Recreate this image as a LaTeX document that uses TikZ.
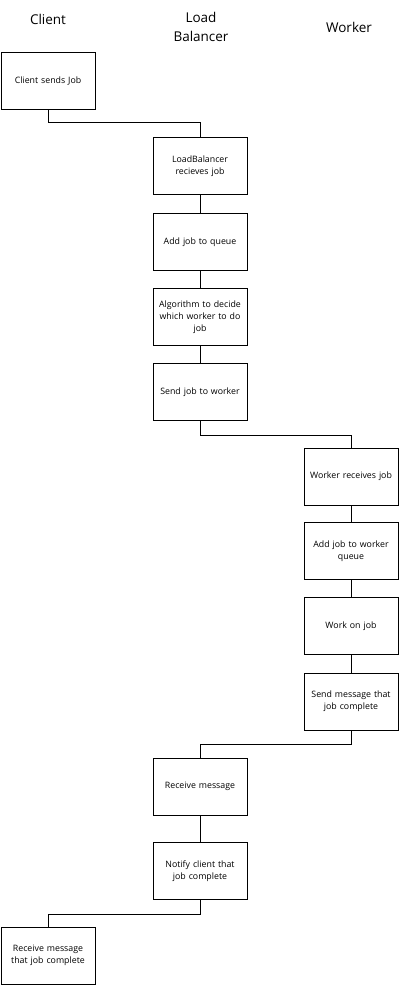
\documentclass[tikz,border=0pt]{standalone}
\usepackage{fontspec}
\setmainfont{Open Sans}
\begin{document}
\begin{tikzpicture}[x=1pt,y=-1pt,
  box/.style={draw=black,line width=0.9pt,rectangle,minimum width=94pt,minimum height=57pt,
    text width=92pt,align=center,inner sep=1pt,font=\fontsize{8.8}{12}\selectfont},
  title/.style={align=center,font=\fontsize{13.5}{19}\selectfont},
  link/.style={draw=black,line width=0.9pt}]
\useasboundingbox[fill=white] (0,0) rectangle (400,987);
\node[title] (tc) at (48,19) {Client};
\node[title] (tl) at (201,27) {Load\\Balancer};
\node[title] (tw) at (349,27) {Worker};
\node[box] (b1) at (48,80.5) {Client sends Job};
\node[box] (b2) at (200,166) {LoadBalancer\\recieves job};
\node[box] (b3) at (200,242) {Add job to queue};
\node[box] (b4) at (200,317) {Algorithm to decide\\which worker to do\\job};
\node[box] (b5) at (200,392) {Send job to worker};
\node[box] (b6) at (351,476.5) {Worker receives job};
\node[box] (b7) at (351,551) {Add job to worker\\queue};
\node[box] (b8) at (351,626) {Work on job};
\node[box] (b9) at (351,701.5) {Send message that\\job complete};
\node[box] (b10) at (200,786.5) {Receive message};
\node[box] (b11) at (200,871) {Notify client that\\job complete};
\node[box] (b12) at (48,955.5) {Receive message\\that job complete};
\draw[link] (b1.south) -- ++(0,13.5) -| (b2.north);
\draw[link] (b2) -- (b3);
\draw[link] (b3) -- (b4);
\draw[link] (b4) -- (b5);
\draw[link] (b5.south) -- ++(0,14) -| (b6.north);
\draw[link] (b6) -- (b7);
\draw[link] (b7) -- (b8);
\draw[link] (b8) -- (b9);
\draw[link] (b9.south) -- ++(0,14) -| (b10.north);
\draw[link] (b10) -- (b11);
\draw[link] (b11.south) -- ++(0,14) -| (b12.north);
\end{tikzpicture}
\end{document}
